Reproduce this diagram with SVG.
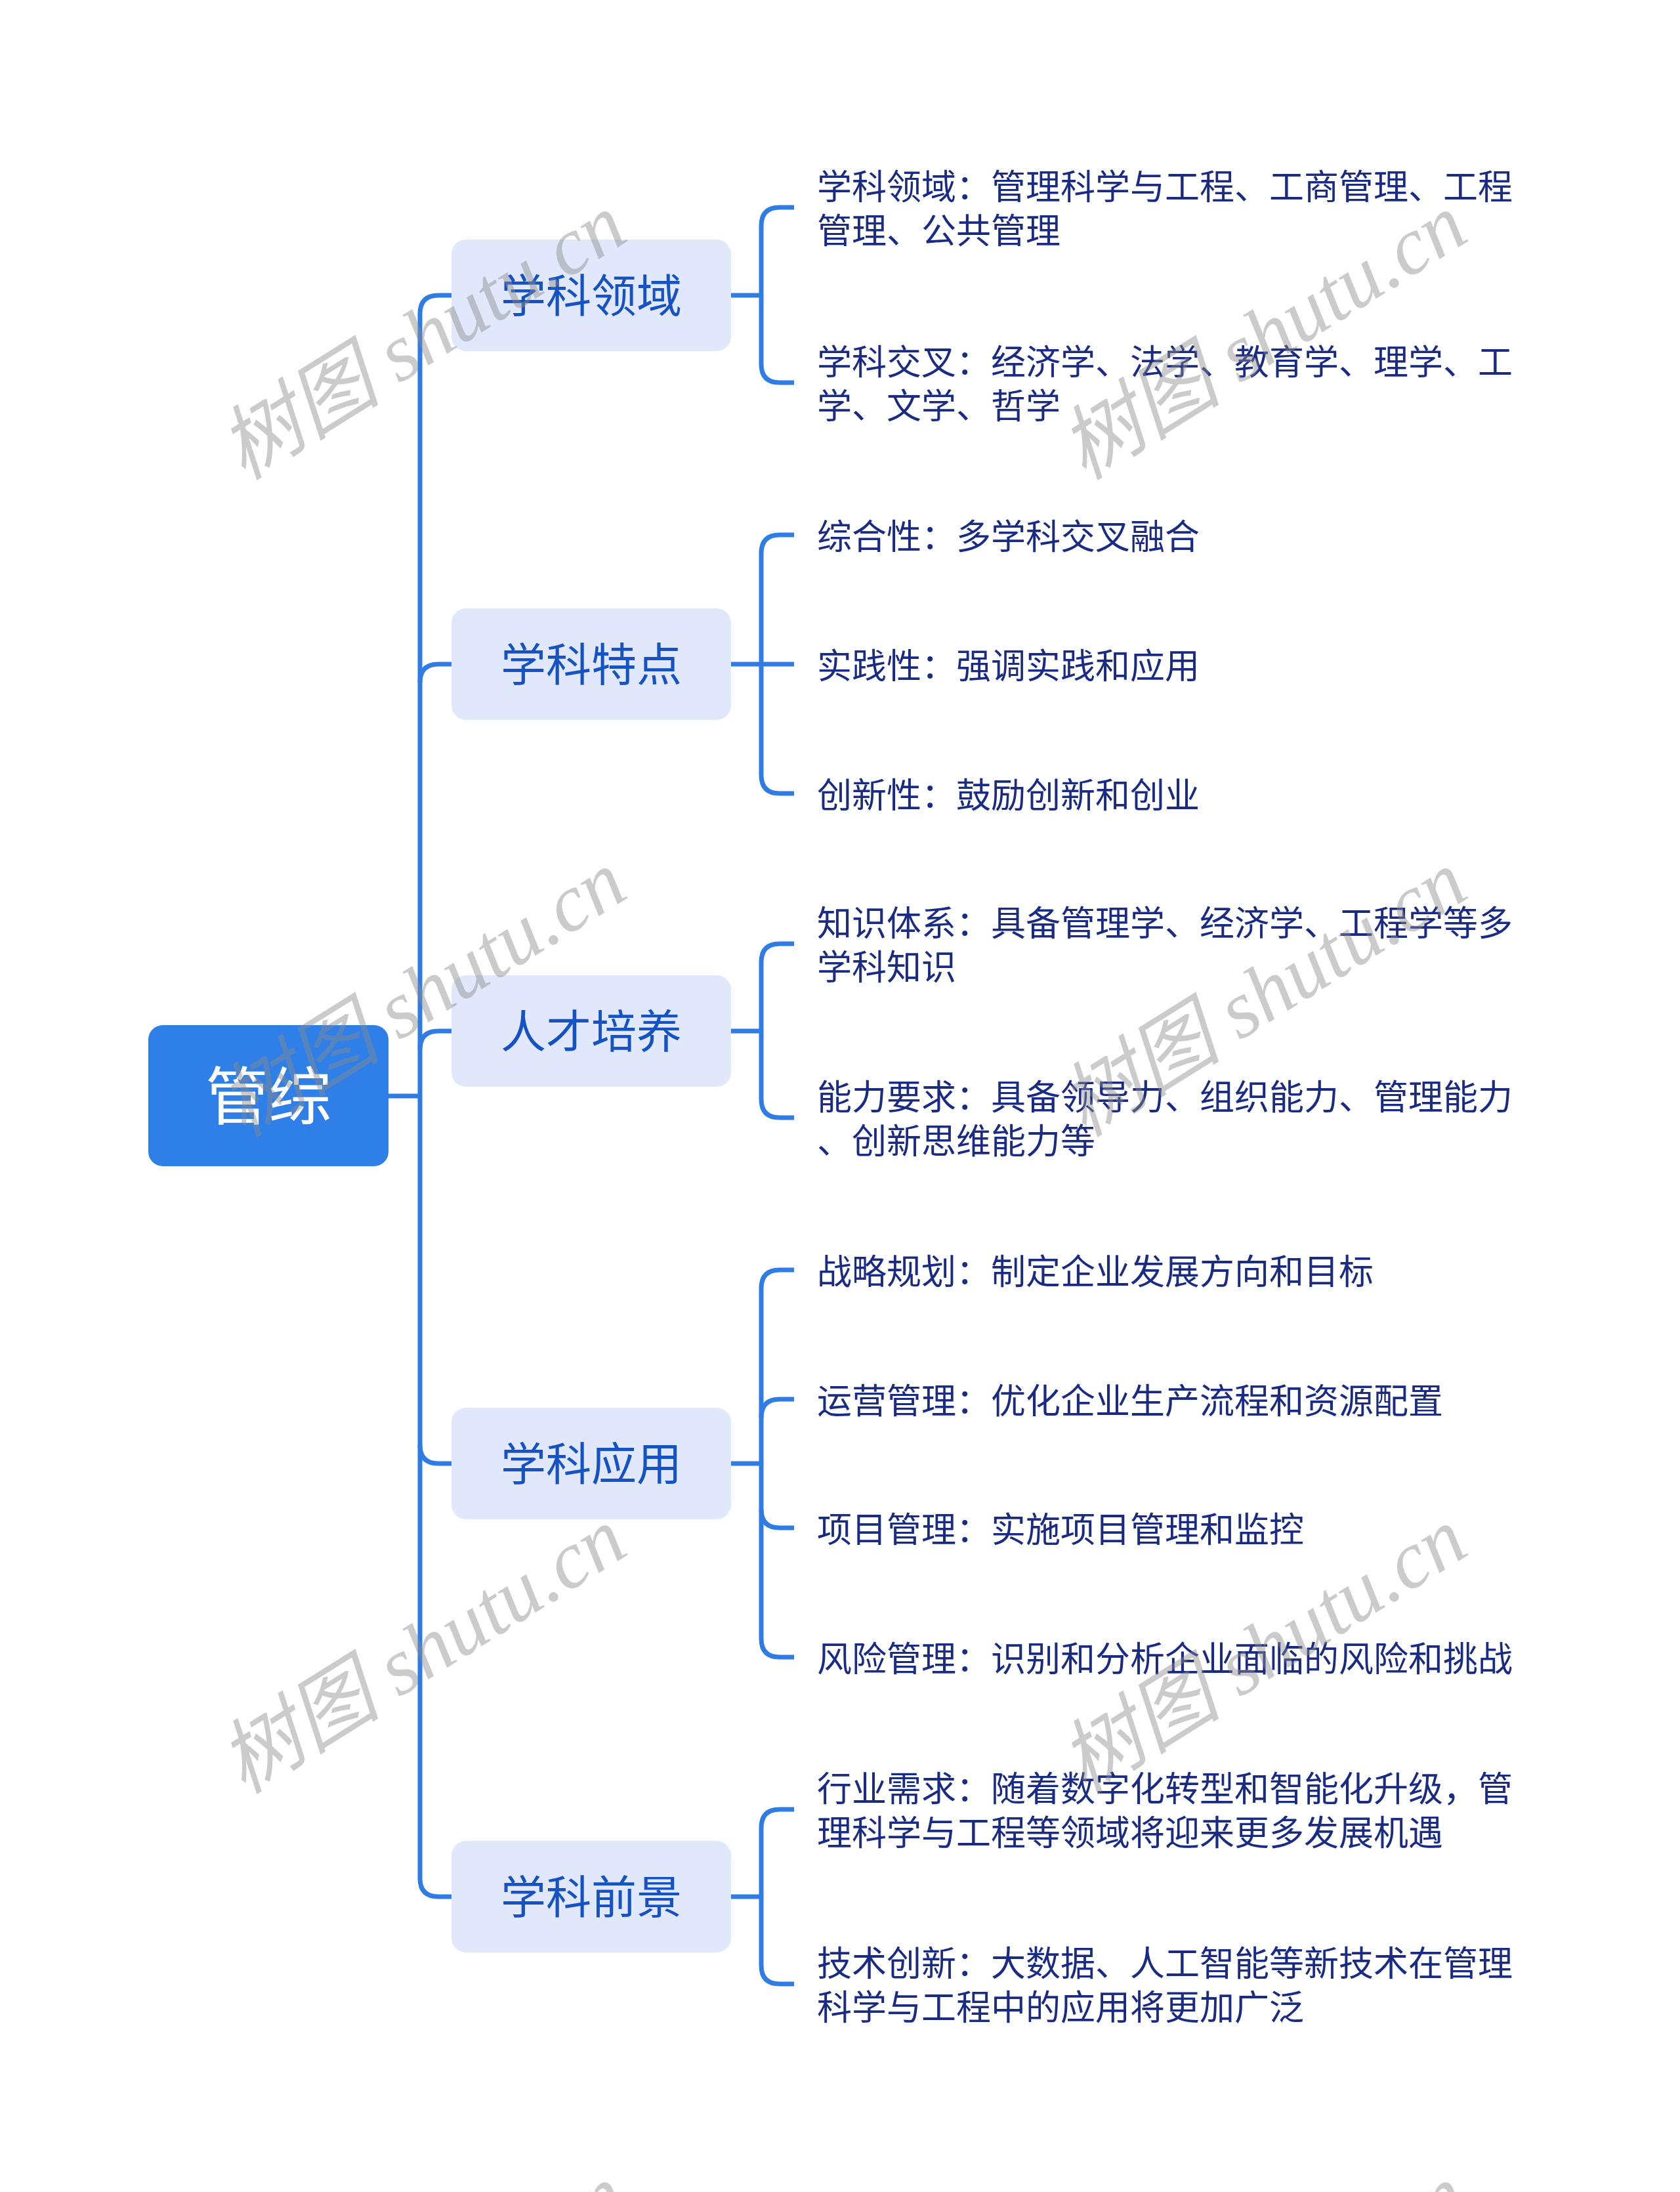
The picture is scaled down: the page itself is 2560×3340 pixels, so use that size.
<svg xmlns="http://www.w3.org/2000/svg" width="2560" height="3340" viewBox="0 0 2560 3340">
<style>
.bg{fill:#ffffff}
.root rect{fill:#2F7FE8}
.root text{fill:#ffffff;font-family:"Noto Sans CJK SC","Noto Sans",sans-serif;font-size:96px;text-anchor:middle}
.br rect{fill:#E1E8FB}
.br text{fill:#1553C4;font-family:"Noto Sans CJK SC","Noto Sans",sans-serif;font-size:69px;text-anchor:middle}
.leaf text{fill:#1A2B84;font-family:"Noto Sans CJK SC","Noto Sans",sans-serif;font-size:53px}
.conn path{fill:none;stroke:#2E7CE4;stroke-width:7;stroke-linecap:butt;stroke-linejoin:round}
.wm text{fill:#8c8c8c;fill-opacity:0.45;font-family:"Liberation Serif","Noto Sans CJK SC",serif;font-style:italic;font-size:124px;text-anchor:middle}
</style>
<rect class="bg" x="0" y="0" width="2560" height="3340"/>

<g id="connectors" class="conn">
  <path d="M592 1670 H640"/>
  <path d="M688 450 H668 Q640 450 640 478 V2862 Q640 2890 668 2890 H688"/>
  <path d="M640 1040 Q640 1012 668 1012 H688"/>
  <path d="M640 1599 Q640 1571 668 1571 H688"/>
  <path d="M640 2202 Q640 2230 668 2230 H688"/>
  <path d="M1114 450 H1160"/>
  <path d="M1210 316 H1188 Q1160 316 1160 344 V555 Q1160 583 1188 583 H1210"/>
  <path d="M1114 1012 H1160"/>
  <path d="M1210 815 H1188 Q1160 815 1160 843 V1181 Q1160 1209 1188 1209 H1210"/>
  <path d="M1160 1012 H1210"/>
  <path d="M1114 1571 H1160"/>
  <path d="M1210 1438 H1188 Q1160 1438 1160 1466 V1675 Q1160 1703 1188 1703 H1210"/>
  <path d="M1114 2230 H1160"/>
  <path d="M1210 1935 H1188 Q1160 1935 1160 1963 V2497 Q1160 2525 1188 2525 H1210"/>
  <path d="M1160 2160 Q1160 2132 1188 2132 H1210"/>
  <path d="M1160 2300 Q1160 2328 1188 2328 H1210"/>
  <path d="M1114 2890 H1160"/>
  <path d="M1210 2757 H1188 Q1160 2757 1160 2785 V2995 Q1160 3023 1188 3023 H1210"/>
</g>

<g id="root" class="root">
  <rect x="226" y="1562" width="366" height="215" rx="22"/>
  <text x="409" y="1705">管综</text>
</g>

<g id="b1" class="br"><rect x="688" y="365" width="426" height="170" rx="22"/><text x="901" y="476">学科领域</text></g>
<g id="b2" class="br"><rect x="688" y="927" width="426" height="170" rx="22"/><text x="901" y="1038">学科特点</text></g>
<g id="b3" class="br"><rect x="688" y="1486" width="426" height="170" rx="22"/><text x="901" y="1597">人才培养</text></g>
<g id="b4" class="br"><rect x="688" y="2145" width="426" height="170" rx="22"/><text x="901" y="2256">学科应用</text></g>
<g id="b5" class="br"><rect x="688" y="2805" width="426" height="170" rx="22"/><text x="901" y="2916">学科前景</text></g>

<g id="l1a" class="leaf"><text x="1245" y="304">学科领域：管理科学与工程、工商管理、工程</text><text x="1245" y="371">管理、公共管理</text></g>
<g id="l1b" class="leaf"><text x="1245" y="571">学科交叉：经济学、法学、教育学、理学、工</text><text x="1245" y="638">学、文学、哲学</text></g>
<g id="l2a" class="leaf"><text x="1245" y="837">综合性：多学科交叉融合</text></g>
<g id="l2b" class="leaf"><text x="1245" y="1034">实践性：强调实践和应用</text></g>
<g id="l2c" class="leaf"><text x="1245" y="1231">创新性：鼓励创新和创业</text></g>
<g id="l3a" class="leaf"><text x="1245" y="1426">知识体系：具备管理学、经济学、工程学等多</text><text x="1245" y="1493">学科知识</text></g>
<g id="l3b" class="leaf"><text x="1245" y="1691">能力要求：具备领导力、组织能力、管理能力</text><text x="1245" y="1758">、创新思维能力等</text></g>
<g id="l4a" class="leaf"><text x="1245" y="1957">战略规划：制定企业发展方向和目标</text></g>
<g id="l4b" class="leaf"><text x="1245" y="2154">运营管理：优化企业生产流程和资源配置</text></g>
<g id="l4c" class="leaf"><text x="1245" y="2350">项目管理：实施项目管理和监控</text></g>
<g id="l4d" class="leaf"><text x="1245" y="2547">风险管理：识别和分析企业面临的风险和挑战</text></g>
<g id="l5a" class="leaf"><text x="1245" y="2745">行业需求：随着数字化转型和智能化升级，管</text><text x="1245" y="2812">理科学与工程等领域将迎来更多发展机遇</text></g>
<g id="l5b" class="leaf"><text x="1245" y="3011">技术创新：大数据、人工智能等新技术在管理</text><text x="1245" y="3078">科学与工程中的应用将更加广泛</text></g>

<g id="watermarks" class="wm">
  <text x="644" y="555" transform="rotate(-32 644 513)">树图 shutu.cn</text>
  <text x="1925" y="555" transform="rotate(-32 1925 513)">树图 shutu.cn</text>
  <text x="644" y="1556" transform="rotate(-32 644 1514)">树图 shutu.cn</text>
  <text x="1925" y="1556" transform="rotate(-32 1925 1514)">树图 shutu.cn</text>
  <text x="644" y="2557" transform="rotate(-32 644 2515)">树图 shutu.cn</text>
  <text x="1925" y="2557" transform="rotate(-32 1925 2515)">树图 shutu.cn</text>
  <text x="644" y="3558" transform="rotate(-32 644 3516)">树图 shutu.cn</text>
  <text x="1925" y="3558" transform="rotate(-32 1925 3516)">树图 shutu.cn</text>
</g>
</svg>
